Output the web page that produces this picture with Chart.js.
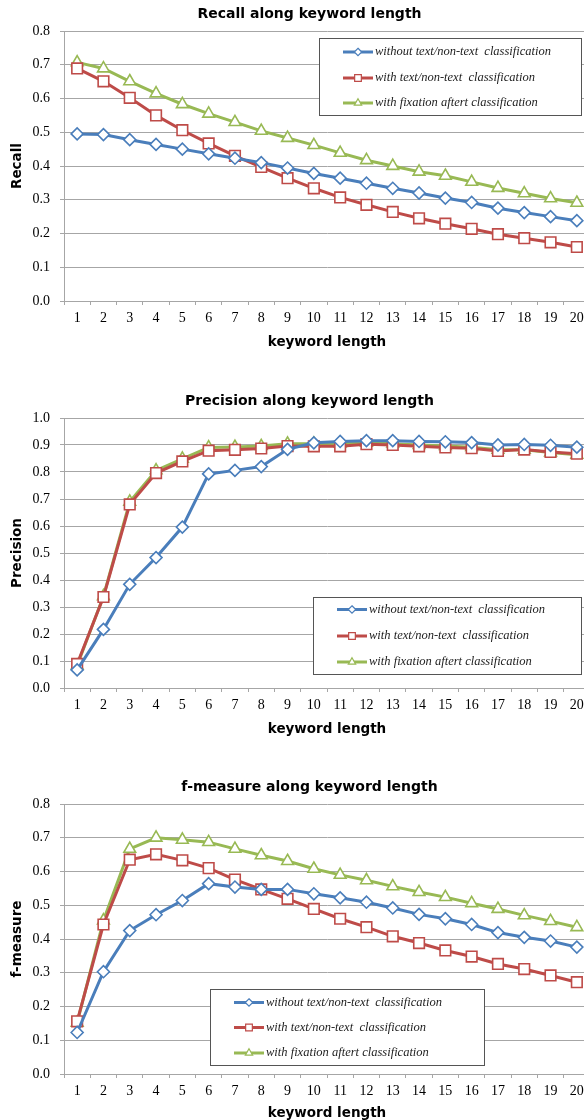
<!DOCTYPE html>
<html><head><meta charset="utf-8">
<script src="https://cdn.jsdelivr.net/npm/chart.js@4.4.1/dist/chart.umd.min.js"></script>
<style>
html,body{margin:0;padding:0;background:#fff;width:584px;height:1120px;overflow:hidden;position:relative;}
canvas{position:absolute;left:0;}
</style></head><body>
<canvas id="c1" width="600" height="356" style="top:0px"></canvas>
<canvas id="c2" width="600" height="356" style="top:387px"></canvas>
<canvas id="c3" width="600" height="356" style="top:773px"></canvas>
<script>
const keywordLengths = ['1','2','3','4','5','6','7','8','9','10','11','12','13','14','15','16','17','18','19','20'];
const seriesNames = ['without text/non-text  classification','with text/non-text  classification','with fixation aftert classification'];
const chartTitles = ['Recall along keyword length','Precision along keyword length','f-measure along keyword length'];
const yAxisTitles = ['Recall','Precision','f-measure'];
const xAxisTitle = 'keyword length';

const recallWithout  = [0.495,0.493,0.478,0.464,0.450,0.436,0.423,0.410,0.394,0.378,0.364,0.349,0.334,0.320,0.305,0.292,0.275,0.262,0.250,0.238];
const recallWithText = [0.689,0.651,0.602,0.550,0.506,0.467,0.430,0.397,0.364,0.334,0.307,0.285,0.264,0.245,0.229,0.214,0.198,0.186,0.174,0.160];
const recallFixation = [0.707,0.689,0.651,0.615,0.583,0.555,0.530,0.504,0.483,0.462,0.439,0.417,0.400,0.383,0.371,0.353,0.335,0.319,0.304,0.291];

const precisionWithout  = [0.067,0.217,0.384,0.483,0.596,0.793,0.806,0.820,0.884,0.908,0.913,0.916,0.916,0.913,0.912,0.909,0.900,0.902,0.899,0.892];
const precisionWithText = [0.089,0.337,0.680,0.796,0.839,0.879,0.882,0.887,0.896,0.895,0.895,0.903,0.900,0.895,0.891,0.888,0.878,0.883,0.874,0.868];
const precisionFixation = [0.083,0.340,0.690,0.806,0.849,0.891,0.893,0.896,0.905,0.905,0.905,0.908,0.905,0.900,0.896,0.892,0.882,0.882,0.872,0.864];

const fmeasureWithout  = [0.123,0.303,0.425,0.472,0.514,0.564,0.554,0.547,0.547,0.534,0.522,0.509,0.492,0.473,0.460,0.443,0.419,0.405,0.394,0.376];
const fmeasureWithText = [0.156,0.443,0.635,0.651,0.633,0.610,0.576,0.547,0.519,0.489,0.460,0.435,0.408,0.388,0.366,0.348,0.326,0.311,0.292,0.272];
const fmeasureFixation = [0.152,0.455,0.667,0.700,0.694,0.687,0.667,0.648,0.631,0.608,0.590,0.574,0.556,0.539,0.524,0.506,0.489,0.470,0.453,0.435];

const yMaxValues = [0.8, 1.0, 0.8];

const COLORS = ['#4A7EBB', '#BE4B48', '#98B954'];
const STYLES = ['rectRot', 'rect', 'triangle'];
const RADII = [6, 7.5, 6.8];
const GRID = '#A6A6A6';
const HEAVY = '"DejaVu Sans", sans-serif';
const SERIF = '"Liberation Serif", "DejaVu Serif", serif';

const decor = {
  id: 'decor',
  afterDraw(chart, args, opts) {
    const ctx = chart.ctx;
    ctx.save();
    ctx.fillStyle = '#000';
    ctx.font = 'bold 14px ' + HEAVY;
    ctx.textAlign = 'center';
    ctx.textBaseline = 'middle';
    ctx.fillText(opts.title, opts.titleX, opts.titleY);
    const b = opts.legend;
    ctx.fillStyle = '#fff';
    ctx.fillRect(b.x, b.y, b.w, b.h);
    ctx.strokeStyle = '#555';
    ctx.lineWidth = 1;
    ctx.strokeRect(b.x + 0.5, b.y + 0.5, b.w, b.h);
    chart.data.datasets.forEach((ds, i) => {
      const cy = b.y + b.rows[i];
      const x0 = b.x + 24, x1 = x0 + 30;
      ctx.strokeStyle = ds.borderColor;
      ctx.lineWidth = 3;
      ctx.beginPath(); ctx.moveTo(x0, cy); ctx.lineTo(x1, cy); ctx.stroke();
      ctx.fillStyle = '#fff';
      ctx.strokeStyle = ds.borderColor;
      ctx.lineWidth = 1.2;
      ctx.beginPath();
      const r = ds.pointRadius * 0.62;
      const cx = (x0 + x1) / 2;
      if (ds.pointStyle === 'rectRot') {
        ctx.moveTo(cx, cy - r); ctx.lineTo(cx + r, cy); ctx.lineTo(cx, cy + r); ctx.lineTo(cx - r, cy); ctx.closePath();
      } else if (ds.pointStyle === 'rect') {
        const s = r * 0.72; ctx.rect(cx - s, cy - s, 2 * s, 2 * s);
      } else {
        ctx.moveTo(cx, cy - r); ctx.lineTo(cx + r * 0.866, cy + r * 0.5); ctx.lineTo(cx - r * 0.866, cy + r * 0.5); ctx.closePath();
      }
      ctx.fill(); ctx.stroke();
      ctx.fillStyle = '#222';
      ctx.font = 'italic 12.5px ' + SERIF;
      ctx.textAlign = 'left';
      ctx.textBaseline = 'middle';
      ctx.fillText(ds.label, x1 + 2, cy);
    });
    ctx.restore();
  }
};

function makeChart(id, series, idx, legend, xTitleBottom) {
  const datasets = series.map((vals, i) => ({
    label: seriesNames[i],
    data: vals,
    borderColor: COLORS[i],
    backgroundColor: '#fff',
    borderWidth: 3,
    pointStyle: STYLES[i],
    pointRadius: RADII[i],
    pointHoverRadius: RADII[i],
    pointBackgroundColor: '#fff',
    pointBorderColor: COLORS[i],
    pointBorderWidth: 1.6,
    tension: 0,
    fill: false
  }));
  return new Chart(document.getElementById(id), {
    type: 'line',
    data: { labels: keywordLengths, datasets },
    plugins: [decor],
    options: {
      responsive: false,
      animation: false,
      devicePixelRatio: 1,
      layout: { padding: { top: 31, right: 10, left: 0, bottom: 0 } },
      plugins: {
        legend: { display: false },
        tooltip: { enabled: false },
        title: { display: false },
        decor: { title: chartTitles[idx], titleX: 309.5, titleY: 14, legend }
      },
      scales: {
        x: {
          offset: true,
          grid: { offset: true, drawOnChartArea: false, drawTicks: true, tickLength: 4, color: GRID },
          border: { color: GRID },
          ticks: { color: '#000', font: { family: SERIF, size: 14 }, padding: 5, maxRotation: 0, autoSkip: false },
          title: { display: true, text: xAxisTitle, color: '#000', font: { family: HEAVY, size: 13.5, weight: 'bold' }, padding: { top: 9, bottom: xTitleBottom } },
          afterFit(scale) { scale.height = 55; }
        },
        y: {
          min: 0, max: yMaxValues[idx],
          grid: { color: GRID, tickLength: 4, drawTicks: true },
          border: { color: GRID },
          ticks: { stepSize: 0.1, color: '#000', font: { family: SERIF, size: 14 }, padding: 10,
                   callback: v => v.toFixed(1) },
          title: { display: true, text: yAxisTitles[idx], color: '#000', font: { family: HEAVY, size: 13.5, weight: 'bold' }, padding: { top: 9, bottom: 9 } },
          afterFit(scale) { scale.width = 64; }
        }
      }
    }
  });
}

makeChart('c1', [recallWithout, recallWithText, recallFixation], 0,
  { x: 319, y: 38, w: 262, h: 77, rows: [14, 40, 65] }, 5);
makeChart('c2', [precisionWithout, precisionWithText, precisionFixation], 1,
  { x: 313, y: 210, w: 268, h: 77, rows: [12.5, 39, 65] }, 5);
makeChart('c3', [fmeasureWithout, fmeasureWithText, fmeasureFixation], 2,
  { x: 210, y: 216, w: 274, h: 76, rows: [13.5, 38.5, 64] }, 7);
</script>
</body></html>
